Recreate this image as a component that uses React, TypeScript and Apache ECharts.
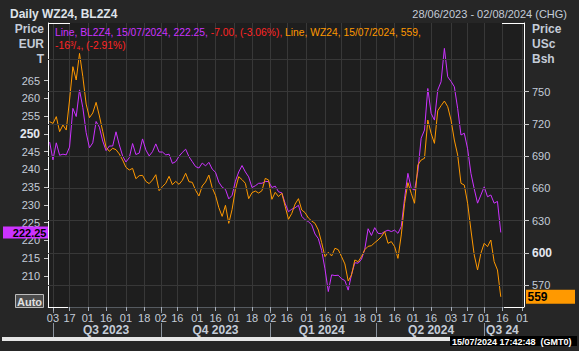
import React, { useEffect, useRef } from "react";
import * as echarts from "echarts";

// ---- data ----
const startDate = "2023-06-28";
const endDate = "2024-08-02";

// trading-day ticks on the date axis
const dayTicks = [
  "2023-07-03", "2023-07-17", "2023-08-01", "2023-08-16", "2023-09-01", "2023-09-18",
  "2023-10-02", "2023-10-16", "2023-11-01", "2023-11-16", "2023-12-01", "2023-12-18",
  "2024-01-02", "2024-01-16", "2024-02-01", "2024-02-16", "2024-03-01", "2024-03-18",
  "2024-04-01", "2024-04-16", "2024-05-01", "2024-05-16", "2024-06-03", "2024-06-17",
  "2024-07-01", "2024-07-16", "2024-08-01",
];
const quarterStarts = ["2023-07-03", "2023-10-02", "2024-01-02", "2024-04-01", "2024-07-01"];
const quarterLabelDates = ["2023-08-16", "2023-11-16", "2024-02-14", "2024-05-16", "2024-07-16"];
const quarterLabels = ["Q3 2023", "Q4 2023", "Q1 2024", "Q2 2024", "Q3 24"];

const leftTicks = [210, 215, 220, 225, 230, 235, 240, 245, 250, 255, 260, 265];
const rightTicks = [570, 600, 630, 660, 690, 720, 750];
const rightGrid = [570, 600, 630, 660, 690, 720, 750, 780];

// BL2Z4 (EUR/T, left axis), every second trading day
const bl2z4Values = [
  247.7, 242.7, 247.5, 244.0, 244.3, 244.1, 246.3, 257.2, 254.9, 262.4,
  257.4, 250.4, 246.1, 247.5, 253.5, 251.9, 248.0, 245.3, 246.6, 246.6,
  250.6, 246.9, 243.8, 242.1, 243.3, 247.3, 244.2, 244.6, 248.6, 245.5,
  243.8, 245.0, 247.2, 244.9, 244.9, 244.1, 244.3, 241.7, 242.2, 243.7,
  244.8, 245.7, 243.6, 242.2, 240.8, 240.4, 241.8,
  241.0, 242.0, 240.1, 239.2, 236.4, 235.0, 234.4, 231.7, 232.7, 236.7,
  239.3, 241.1, 239.3, 237.9, 234.9, 235.4, 236.1, 236.1, 236.6, 236.6,
  234.9, 235.3, 233.7, 233.4, 230.4, 228.1, 228.8, 229.2, 229.9, 226.8,
  225.8, 225.3, 224.4, 221.8, 220.5, 217.2, 212.0, 205.6, 210.3, 210.1,
  210.2, 209.2, 208.7, 206.0, 210.4, 213.7, 213.6, 214.7, 217.5, 223.3,
  221.4, 223.6, 222.0,
  221.9, 222.5, 222.9, 222.5, 222.9, 222.0, 223.9, 231.9, 238.9, 234.7,
  234.2, 239.4, 248.8, 251.1, 262.8, 255.8, 253.9, 262.4, 264.7, 274.1,
  266.1, 264.8, 263.3, 257.2, 249.7, 250.2, 245.8, 238.9, 234.5, 230.5,
  232.8, 235.1, 232.3, 232.8, 230.5, 231.0, 222.25,
];

// WZ24 (USc/Bsh, right axis), every second trading day
const wz24Values = [
  722.1, 720.5, 726.8, 712.8, 719.0, 714.3, 742.3, 773.3, 760.9, 785.7,
  764.0, 738.5, 725.8, 730.2, 740.1, 727.4, 713.1, 698.2, 694.5, 697.3,
  696.0, 692.0, 686.4, 679.6, 677.1, 678.6, 669.0, 671.8, 672.1, 666.5,
  664.4, 667.8, 672.7, 657.8, 661.6, 664.7, 671.2, 663.4, 666.5, 663.7,
  667.5, 674.0, 666.2, 665.6, 658.2, 652.9, 662.2,
  665.9, 672.4, 660.6, 653.5, 642.0, 633.9, 644.2, 627.4, 640.4, 659.1,
  670.9, 668.1, 664.7, 650.4, 656.0, 657.5, 655.6, 657.8, 669.3, 667.8,
  649.8, 656.3, 652.3, 655.4, 643.3, 631.2, 636.7, 645.4, 650.4, 639.8,
  637.4, 632.4, 629.6, 627.4, 621.2, 609.4, 596.4, 600.4, 597.0, 604.2,
  602.9, 596.4, 589.6, 573.7, 579.3, 593.3, 591.7, 596.4, 602.9, 606.0,
  606.6, 609.4, 611.9,
  615.0, 619.7, 608.8, 610.4, 605.7, 594.8, 616.6, 646.1, 665.3, 655.4,
  646.1, 681.8, 686.4, 688.0, 723.6, 711.2, 701.9, 732.3, 737.0, 741.3,
  736.1, 723.6, 705.0, 691.1, 664.7, 663.1, 646.1, 621.2, 597.9, 584.0,
  599.5, 608.8, 605.7, 611.9, 591.7, 584.0, 559,
];

const lastBL = 222.25;
const lastWZ = 559;

// ---- calendar of trading days (weekdays) ----
const categories: string[] = [];
{
  const end = new Date(endDate + "T00:00:00Z");
  for (let d = new Date(startDate + "T00:00:00Z"); d <= end; d.setUTCDate(d.getUTCDate() + 1)) {
    const wd = d.getUTCDay();
    if (wd !== 0 && wd !== 6) categories.push(d.toISOString().slice(0, 10));
  }
}
const sampleDates = categories.filter((_, i) => i % 2 === 1);

const PURPLE = "#cc33ff";
const ORANGE = "#ff9900";
const RED = "#ff2424";
const LABEL = "#c4ccd8";
const BG = "#262626";
const PLOT_BG = "#1e1e1e";
const GRIDC = "#383838";
const FONT = '"Liberation Sans", Arial, sans-serif';

const W = 579;
const H = 351;
const G = { left: 48, right: 55, top: 23, bottom: 44 };

export default function App() {
  const ref = useRef<HTMLDivElement>(null);
  useEffect(() => {
    document.body.style.margin = "0";
    if (!ref.current) return;
    const chart = echarts.init(ref.current, undefined, { renderer: "svg", width: W, height: H });
    const tickSet = new Set(dayTicks);
    const qStartSet = new Set(quarterStarts);
    const qLabelMap: Record<string, string> = {};
    quarterLabelDates.forEach((d, i) => (qLabelMap[d] = quarterLabels[i]));

    const gx0 = G.left;
    const gx1 = W - G.right;
    const gy0 = G.top;
    const gy1 = H - G.bottom;

    const option: any = {
      animation: false,
      backgroundColor: BG,
      grid: {
        left: G.left, right: G.right, top: G.top, bottom: G.bottom,
        show: true, backgroundColor: PLOT_BG, borderWidth: 0,
      },
      xAxis: [
        {
          type: "category", data: categories, boundaryGap: false, position: "bottom", z: 1,
          axisLine: { show: true, lineStyle: { color: "#555a60", width: 1 } },
          axisTick: { show: true, interval: (i: number, v: string) => tickSet.has(v), length: 4, lineStyle: { color: "#a8b0bc" } },
          axisLabel: {
            show: true, interval: (i: number, v: string) => tickSet.has(v),
            formatter: (v: string) => v.slice(8, 10),
            color: LABEL, fontFamily: FONT, fontSize: 11, margin: 6, lineHeight: 10,
            backgroundColor: BG,
          },
          splitLine: { show: true, interval: (i: number, v: string) => tickSet.has(v), lineStyle: { color: GRIDC, width: 1 } },
        },
        {
          type: "category", data: categories, boundaryGap: false, position: "bottom", offset: 4, z: 0,
          axisLine: { show: false },
          axisTick: { show: true, interval: (i: number, v: string) => qStartSet.has(v), length: 26, lineStyle: { color: "#8a929c" } },
          axisLabel: {
            show: true, interval: (i: number, v: string) => !!qLabelMap[v],
            formatter: (v: string) => qLabelMap[v] || "",
            color: LABEL, fontFamily: FONT, fontSize: 12, fontWeight: "bold", margin: 13, lineHeight: 11,
          },
          splitLine: { show: false },
        },
      ],
      yAxis: [
        {
          type: "value", position: "left", min: 201.25, max: 281.25,
          axisLine: { show: true, lineStyle: { color: "#ffffff", width: 1 } },
          axisTick: { show: true, customValues: leftTicks, length: 4, lineStyle: { color: "#c8c8c8" } },
          axisLabel: {
            show: true, customValues: leftTicks, color: LABEL, fontFamily: FONT, fontSize: 11, margin: 8, lineHeight: 8,
            formatter: (v: number) => (v === 250 ? `{b|${v}}` : `${v}`),
            rich: { b: { fontWeight: "bold", color: "#e4e8f0", fontFamily: FONT, fontSize: 12, lineHeight: 9 } },
          },
          splitLine: { show: false },
        },
        {
          type: "value", position: "right", min: 549.5, max: 814,
          axisLine: { show: true, lineStyle: { color: "#ffffff", width: 1 } },
          axisTick: { show: true, customValues: rightTicks, length: 5, lineStyle: { color: "#c8c8c8" } },
          axisLabel: {
            show: true, customValues: rightTicks, color: LABEL, fontFamily: FONT, fontSize: 11, margin: 8, lineHeight: 10,
            formatter: (v: number) => (v === 600 ? `{b|${v}}` : `${v}`),
            rich: { b: { fontWeight: "bold", color: "#e4e8f0", fontFamily: FONT, fontSize: 12, lineHeight: 11 } },
          },
          splitLine: { show: false },
        },
      ],
      series: [
        {
          type: "line", name: "grid", yAxisIndex: 1, xAxisIndex: 0, data: [], z: 1, silent: true,
          markLine: {
            silent: true, symbol: ["none", "none"], label: { show: false },
            lineStyle: { color: GRIDC, type: "solid", width: 1 },
            emphasis: { disabled: true },
            data: rightGrid.map((v) => ({ yAxis: v })),
          },
        },
        {
          type: "line", name: "BL2Z4", yAxisIndex: 0, xAxisIndex: 0, z: 2,
          data: bl2z4Values.map((v, k) => [sampleDates[k], v]),
          showSymbol: false, symbol: "none",
          lineStyle: { color: PURPLE, width: 1 }, itemStyle: { color: PURPLE },
        },
        {
          type: "line", name: "WZ24", yAxisIndex: 1, xAxisIndex: 0, z: 3,
          data: wz24Values.map((v, k) => [sampleDates[k], v]),
          showSymbol: false, symbol: "none",
          lineStyle: { color: ORANGE, width: 1 }, itemStyle: { color: ORANGE },
        },
      ],
    };
    chart.setOption(option);

    const yBL = chart.convertToPixel({ yAxisIndex: 0 }, lastBL) as number;
    const yWZ = chart.convertToPixel({ yAxisIndex: 1 }, lastWZ) as number;

    const txt = (x: number, y: number, text: string, extra: any = {}) => ({
      type: "text", x, y, silent: true, z: 50,
      style: { text, fill: LABEL, fontFamily: FONT, fontSize: 12, fontWeight: "bold", verticalAlign: "middle", ...extra },
    });
    const white = { stroke: "#ffffff", lineWidth: 1 };

    const graphic: any[] = [
      txt(10, 14, "Daily WZ24, BL2Z4", { fill: "#dfe3ea" }),
      txt(567, 14, "28/06/2023 - 02/08/2024 (CHG)", { align: "right", fontWeight: "normal", fontSize: 11, fill: LABEL }),
      txt(44, 29, "Price", { align: "right" }),
      txt(44, 44, "EUR", { align: "right" }),
      txt(44, 59, "T", { align: "right" }),
      txt(532, 29, "Price", { align: "left" }),
      txt(532, 44, "USc", { align: "left" }),
      txt(532, 59, "Bsh", { align: "left" }),
      // frame corners
      { type: "line", silent: true, z: 40, shape: { x1: gx0, y1: gy0 + 0.5, x2: gx0 + 22, y2: gy0 + 0.5 }, style: white },
      { type: "line", silent: true, z: 40, shape: { x1: gx1 - 22, y1: gy0 + 0.5, x2: gx1, y2: gy0 + 0.5 }, style: white },
      { type: "line", silent: true, z: 40, shape: { x1: gx0, y1: gy1 + 0.5, x2: gx0 + 20, y2: gy1 + 0.5 }, style: white },
      { type: "line", silent: true, z: 40, shape: { x1: gx1 - 20, y1: gy1 + 0.5, x2: gx1, y2: gy1 + 0.5 }, style: white },
      // legend text
      {
        type: "text", x: 55, y: 26, silent: true, z: 50,
        style: {
          text: "{p|Line, BL2Z4, 15/07/2024, 222.25, }{r|-7.00, (-3.06%), }{o|Line, WZ24, 15/07/2024, 559,}\n{r|-16³/₄, (-2.91%)}",
          fontFamily: FONT, fontSize: 10.3, lineHeight: 13,
          rich: {
            p: { fill: PURPLE, fontFamily: FONT, fontSize: 10.3, lineHeight: 13 },
            r: { fill: RED, fontFamily: FONT, fontSize: 10.3, lineHeight: 13 },
            o: { fill: ORANGE, fontFamily: FONT, fontSize: 10.3, lineHeight: 13 },
          },
        },
      },
      // last-value badges
      { type: "rect", silent: true, z: 45, shape: { x: 3, y: yBL - 6, width: 45, height: 12 }, style: { fill: PURPLE } },
      txt(46.5, yBL + 0.5, String(lastBL), { align: "right", fill: "#000000", fontSize: 11, lineHeight: 7 }),
      { type: "rect", silent: true, z: 45, shape: { x: 526, y: yWZ - 7, width: 49, height: 14 }, style: { fill: ORANGE } },
      txt(527.5, yWZ + 0.5, String(lastWZ), { align: "left", fill: "#000000", fontSize: 12 }),
      // Auto button
      { type: "rect", silent: true, z: 45, shape: { x: 15.5, y: 294.5, width: 28, height: 13 }, style: { fill: "#4c4c4c", stroke: "#bcbcbc", lineWidth: 1 } },
      txt(29.5, 301.5, "Auto", { align: "center", fill: "#e0e0e0", fontSize: 11 }),
      // bottom status strip
      { type: "rect", silent: true, z: 45, shape: { x: 2, y: 337, width: 450, height: 4 }, style: { fill: "#e6e6e6" } },
      { type: "rect", silent: true, z: 45, shape: { x: 450, y: 336, width: 127, height: 10 }, style: { fill: "#000000" } },
      txt(452, 341.5, "15/07/2024 17:42:48  (GMT0)", { align: "left", fill: "#ffffff", fontSize: 9, lineHeight: 8 }),
    ];
    chart.setOption({ graphic });

    return () => chart.dispose();
  }, []);
  return <div ref={ref} style={{ width: W, height: H, background: BG }} />;
}
